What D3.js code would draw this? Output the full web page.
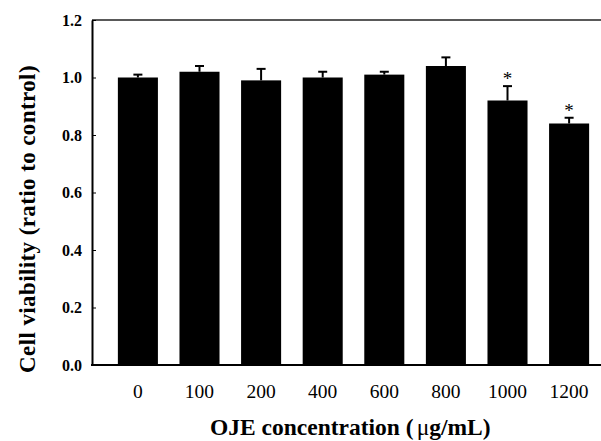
<!DOCTYPE html>
<html lang="en">
<head>
    <meta charset="utf-8">
    <title>Cell viability</title>
    <script src="https://d3js.org/d3.v7.min.js" charset="utf-8"></script>
    <style type="text/css">
        body {
            margin: 0;
            background: #fff;
        }
        svg text {
            font-family: 'Liberation Serif', 'Times New Roman', serif;
        }
    </style>
</head>
<body>
    <script type="text/javascript">
        // data
        var concentrations = ["0", "100", "200", "400", "600", "800", "1000", "1200"];
        var viability = [1.00, 1.02, 0.99, 1.00, 1.01, 1.04, 0.92, 0.84];
        var errors = [0.01, 0.02, 0.04, 0.02, 0.01, 0.03, 0.05, 0.02];
        var significant = [false, false, false, false, false, false, true, true];
        var yTicks = [0.0, 0.2, 0.4, 0.6, 0.8, 1.0, 1.2];

        var width = 601;
        var height = 441;
        var plotLeft = 92, plotTop = 20, plotBottom = 365;

        var svg = d3.select("body")
                    .append("svg")
                    .attr("width", width)
                    .attr("height", height);

        var data = concentrations.map(function (c, i) {
            return { conc: c, value: viability[i], err: errors[i], star: significant[i] };
        });

        var x = d3.scaleBand()
                  .domain(concentrations)
                  .range([plotLeft, 615])
                  .paddingInner(0.35)
                  .paddingOuter(0.42);

        var y = d3.scaleLinear()
                  .domain([0, 1.2])
                  .range([plotBottom, plotTop]);

        // bars
        svg.selectAll("rect.bar")
            .data(data)
            .enter()
            .append("rect")
            .attr("class", "bar")
            .attr("x", function (d) { return x(d.conc); })
            .attr("y", function (d) { return y(d.value); })
            .attr("width", x.bandwidth())
            .attr("height", function (d) { return y(0) - y(d.value); })
            .attr("fill", "black");

        // error bars (upper only)
        var eb = svg.selectAll("g.err")
            .data(data)
            .enter()
            .append("g")
            .attr("class", "err")
            .attr("stroke", "black")
            .attr("stroke-width", 2);

        eb.append("line")
            .attr("x1", function (d) { return x(d.conc) + x.bandwidth() / 2; })
            .attr("x2", function (d) { return x(d.conc) + x.bandwidth() / 2; })
            .attr("y1", function (d) { return y(d.value); })
            .attr("y2", function (d) { return y(d.value + d.err); });

        eb.append("line")
            .attr("x1", function (d) { return x(d.conc) + x.bandwidth() / 2 - 4.5; })
            .attr("x2", function (d) { return x(d.conc) + x.bandwidth() / 2 + 4.5; })
            .attr("y1", function (d) { return y(d.value + d.err); })
            .attr("y2", function (d) { return y(d.value + d.err); });

        // significance marks
        svg.selectAll("text.star")
            .data(data.filter(function (d) { return d.star; }))
            .enter()
            .append("text")
            .attr("class", "star")
            .attr("x", function (d) { return x(d.conc) + x.bandwidth() / 2; })
            .attr("y", function (d) { return y(d.value + d.err) - 1; })
            .attr("text-anchor", "middle")
            .attr("font-size", "19px")
            .text("*");

        // top frame line
        svg.append("line")
            .attr("x1", plotLeft)
            .attr("x2", width)
            .attr("y1", plotTop)
            .attr("y2", plotTop)
            .attr("stroke", "#222")
            .attr("stroke-width", 1.5);

        // axes
        var yAxis = svg.append("g")
            .attr("transform", "translate(" + plotLeft + ",0)")
            .call(d3.axisLeft(y).tickValues(yTicks).tickFormat(d3.format(".1f"))
                .tickSize(-4).tickPadding(10).tickSizeOuter(0));
        yAxis.select(".domain").attr("stroke-width", 2);
        yAxis.selectAll("text")
            .attr("font-size", "16px")
            .attr("font-weight", "bold")
            .attr("fill", "black");

        var xAxis = svg.append("g")
            .attr("transform", "translate(0," + plotBottom + ")")
            .call(d3.axisBottom(x).tickSize(0).tickPadding(19.5));
        xAxis.select(".domain").remove();
        xAxis.selectAll("text")
            .attr("font-size", "19.5px")
            .attr("fill", "black");

        svg.append("line")
            .attr("x1", plotLeft - 1)
            .attr("x2", width)
            .attr("y1", plotBottom)
            .attr("y2", plotBottom)
            .attr("stroke", "black")
            .attr("stroke-width", 2);

        // axis titles
        var xt = svg.append("text")
            .attr("x", 210)
            .attr("y", 435)
            .attr("font-size", "23.5px")
            .attr("font-weight", "bold");
        xt.append("tspan").text("OJE concentration (");
        xt.append("tspan").attr("dx", 3).attr("font-weight", "normal").text("\u03bc");
        xt.append("tspan").text("g/mL)");

        svg.append("text")
            .attr("transform", "translate(35,219) rotate(-90)")
            .attr("text-anchor", "middle")
            .attr("font-size", "23px")
            .attr("letter-spacing", "0.4px")
            .attr("font-weight", "bold")
            .text("Cell viability (ratio to control)");
    </script>
</body>
</html>
